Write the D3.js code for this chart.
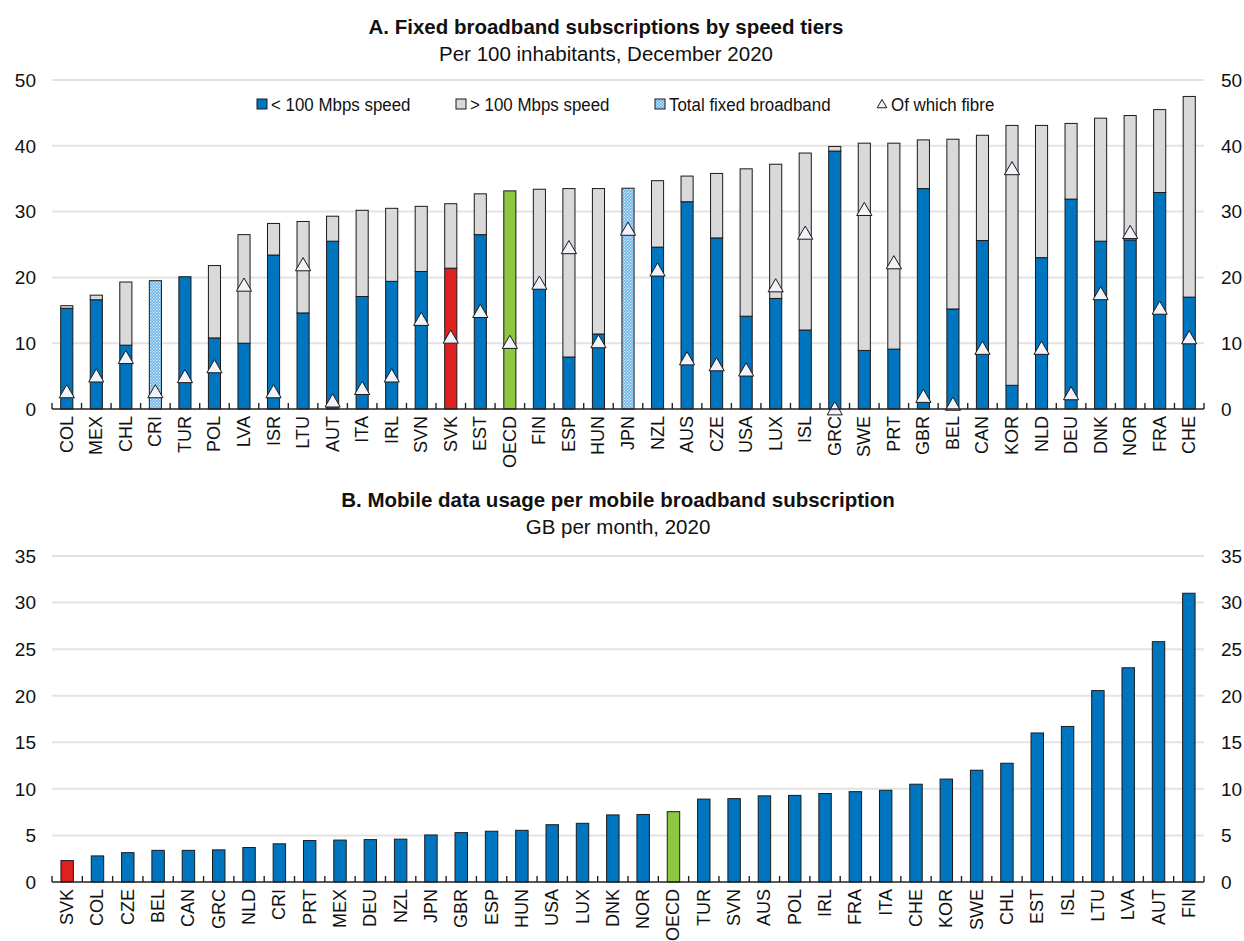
<!DOCTYPE html>
<html>
<head>
<meta charset="utf-8">
<script src="https://cdn.jsdelivr.net/npm/d3@7"></script>
<style>
  html, body { margin: 0; padding: 0; background: #fff; }
  svg { display: block; }
  .narrow { font-family: "Liberation Sans Narrow", "Arial Narrow", "Liberation Sans", Arial, sans-serif; }
  .cat { font-family: "Liberation Sans", Arial, sans-serif; }
</style>
</head>
<body>
<svg id="chart" width="1244" height="941"></svg>
<script>
// Panel A: fixed broadband subscriptions per 100 inhabitants, Dec 2020
const fixedCountries = ["COL","MEX","CHL","CRI","TUR","POL","LVA","ISR","LTU","AUT","ITA","IRL","SVN","SVK","EST","OECD","FIN","ESP","HUN","JPN","NZL","AUS","CZE","USA","LUX","ISL","GRC","SWE","PRT","GBR","BEL","CAN","KOR","NLD","DEU","DNK","NOR","FRA","CHE"];
// < 100 Mbps (null where only the total is available)
const below100 = [15.3,16.6,9.7,null,20.1,10.8,10.0,23.4,14.6,25.5,17.1,19.4,20.9,21.4,26.5,null,18.3,7.9,11.4,null,24.6,31.5,26.0,14.1,16.8,12.0,39.2,8.9,9.1,33.5,15.2,25.6,3.6,23.0,31.9,25.5,25.7,32.9,17.0];
// > 100 Mbps
const above100 = [0.4,0.7,9.6,null,0.0,11.0,16.5,4.8,13.9,3.8,13.1,11.1,9.9,9.8,6.2,null,15.1,25.6,22.1,null,10.1,3.9,9.8,22.4,20.4,26.9,0.7,31.5,31.3,7.4,25.8,16.0,39.5,20.1,11.5,18.7,18.9,12.6,30.5];
// Total fixed broadband, where no speed split is shown
const totalOnly = [null,null,null,19.5,null,null,null,null,null,null,null,null,null,null,null,33.15,null,null,null,33.55,null,null,null,null,null,null,null,null,null,null,null,null,null,null,null,null,null,null,null];
// Of which fibre
const fibre = [2.6,5.0,7.8,2.6,4.9,6.4,18.8,2.6,21.9,1.2,3.1,5.0,13.6,10.9,14.8,10.1,19.1,24.5,10.2,27.3,21.1,7.6,6.7,5.9,18.7,26.7,0.0,30.3,22.2,1.9,0.7,9.2,36.5,9.2,2.3,17.5,26.8,15.3,10.8];
const fixedTicks = [0,10,20,30,40,50];

// Panel B: mobile data usage per mobile broadband subscription, GB per month, 2020
const mobileCountries = ["SVK","COL","CZE","BEL","CAN","GRC","NLD","CRI","PRT","MEX","DEU","NZL","JPN","GBR","ESP","HUN","USA","LUX","DNK","NOR","OECD","TUR","SVN","AUS","POL","IRL","FRA","ITA","CHE","KOR","SWE","CHL","EST","ISL","LTU","LVA","AUT","FIN"];
const mobileUsage = [2.3,2.8,3.15,3.4,3.4,3.45,3.7,4.1,4.45,4.5,4.55,4.6,5.05,5.3,5.45,5.55,6.15,6.3,7.2,7.25,7.55,8.9,8.95,9.25,9.3,9.5,9.7,9.85,10.5,11.05,12.0,12.75,16.0,16.7,20.55,23.0,25.8,31.0];
const mobileTicks = [0,5,10,15,20,25,30,35];

const legendItems = ["< 100 Mbps speed", "> 100 Mbps speed", "Total fixed broadband", "Of which fibre"];

const COL_BLUE = "#0075bf";
const COL_GREY = "#d9d9d9";
const COL_RED = "#e0201f";
const COL_GREEN = "#8dc63f";
const GRID = "#e3e3e3";

const svg = d3.select("#chart");

// dotted light-blue fill for the total-only bars
const defs = svg.append("defs");
const pat = defs.append("pattern").attr("id", "dots").attr("patternUnits", "userSpaceOnUse")
  .attr("width", 3).attr("height", 3);
pat.append("rect").attr("width", 3).attr("height", 3).attr("fill", "#6cb4e6");
pat.append("rect").attr("x", 0).attr("y", 0).attr("width", 1.2).attr("height", 1.2).attr("fill", "#e8f4fc");
pat.append("rect").attr("x", 1.5).attr("y", 1.5).attr("width", 1.2).attr("height", 1.2).attr("fill", "#e8f4fc");

const X0 = 52, X1 = 1204;

function panelFrame(g, y, ticks) {
  // horizontal gridlines
  g.append("g").selectAll("line").data(ticks.filter(t => t !== 0)).join("line")
    .attr("x1", X0).attr("x2", X1)
    .attr("y1", d => y(d)).attr("y2", d => y(d))
    .attr("stroke", GRID).attr("stroke-width", 2);
  // tick labels on both sides
  g.append("g").selectAll("text").data(ticks).join("text")
    .attr("class", "narrow").attr("x", 36).attr("y", d => y(d)).attr("dy", "0.36em")
    .attr("text-anchor", "end").attr("font-size", 19).attr("fill", "#111").text(d => d);
  g.append("g").selectAll("text").data(ticks).join("text")
    .attr("class", "narrow").attr("x", 1221).attr("y", d => y(d)).attr("dy", "0.36em")
    .attr("text-anchor", "start").attr("font-size", 19).attr("fill", "#111").text(d => d);
}

function panelAxis(g, y, cats, xScale) {
  const y0 = y(0);
  g.append("line").attr("x1", X0).attr("x2", X1).attr("y1", y0).attr("y2", y0)
    .attr("stroke", "#222").attr("stroke-width", 1.6);
  // tick marks at band boundaries, pointing up
  const gap = (xScale.step() - xScale.bandwidth()) / 2;
  const bounds = cats.map(c => xScale(c) - gap);
  bounds.push(X1);
  g.append("g").selectAll("line").data(bounds).join("line")
    .attr("x1", d => d).attr("x2", d => d).attr("y1", y0).attr("y2", y0 - 6)
    .attr("stroke", "#222").attr("stroke-width", 1.4);
  // category labels, rotated
  g.append("g").selectAll("text").data(cats).join("text")
    .attr("class", "cat")
    .attr("transform", d => `translate(${xScale(d) + xScale.bandwidth() / 2 + 6},${y0 + 7}) rotate(-90)`)
    .attr("text-anchor", "end").attr("font-size", 18).attr("fill", "#111").text(d => d);
}

function titles(cx, y1, t1, t2) {
  svg.append("text").attr("class", "narrow").attr("x", cx).attr("y", y1)
    .attr("text-anchor", "middle").attr("font-size", 20.5).attr("font-weight", "bold").attr("fill", "#111").text(t1);
  svg.append("text").attr("class", "narrow").attr("x", cx).attr("y", y1 + 27)
    .attr("text-anchor", "middle").attr("font-size", 20.5).attr("fill", "#111").text(t2);
}

// ---------- Panel A ----------
titles(606, 34, "A. Fixed broadband subscriptions by speed tiers", "Per 100 inhabitants, December 2020");
const gA = svg.append("g");
const xA = d3.scaleBand().domain(fixedCountries).range([X0, X1]).paddingInner(0.59).paddingOuter(0.295);
const yA = d3.scaleLinear().domain([0, 50]).range([409, 80]);
panelFrame(gA, yA, fixedTicks);

const rowsA = fixedCountries.map((c, i) => ({ c, slow: below100[i], fast: above100[i], tot: totalOnly[i], fib: fibre[i] }));

const barsA = gA.append("g");
rowsA.forEach(d => {
  const x = xA(d.c), w = xA.bandwidth();
  if (d.tot !== null) {
    barsA.append("rect").attr("x", x).attr("width", w)
      .attr("y", yA(d.tot)).attr("height", yA(0) - yA(d.tot))
      .attr("fill", d.c === "OECD" ? COL_GREEN : "url(#dots)")
      .attr("stroke", "#1a1a1a").attr("stroke-width", 1);
  } else {
    barsA.append("rect").attr("x", x).attr("width", w)
      .attr("y", yA(d.slow)).attr("height", yA(0) - yA(d.slow))
      .attr("fill", d.c === "SVK" ? COL_RED : COL_BLUE)
      .attr("stroke", "#1a1a1a").attr("stroke-width", 1);
    if (d.fast > 0) {
      barsA.append("rect").attr("x", x).attr("width", w)
        .attr("y", yA(d.slow + d.fast)).attr("height", yA(d.slow) - yA(d.slow + d.fast))
        .attr("fill", COL_GREY).attr("stroke", "#1a1a1a").attr("stroke-width", 1);
    }
  }
});

// fibre markers
const tri = d3.symbol().type(d3.symbolTriangle).size(100);
gA.append("g").selectAll("path").data(rowsA).join("path")
  .attr("d", tri)
  .attr("transform", d => `translate(${xA(d.c) + xA.bandwidth() / 2},${yA(d.fib) + 1.5})`)
  .attr("fill", "#f2f2fa").attr("stroke", "#1a1a1a").attr("stroke-width", 1);

panelAxis(gA, yA, fixedCountries, xA);

// legend
const lg = svg.append("g");
const legX = [262, 461, 660, 882];
const legY = 104;
legendItems.forEach((t, i) => {
  const x = legX[i];
  if (i < 3) {
    lg.append("rect").attr("x", x - 5).attr("y", legY - 5).attr("width", 10).attr("height", 10)
      .attr("fill", i === 0 ? COL_BLUE : i === 1 ? COL_GREY : "url(#dots)")
      .attr("stroke", "#1a1a1a").attr("stroke-width", 1);
  } else {
    lg.append("path").attr("d", d3.symbol().type(d3.symbolTriangle).size(40))
      .attr("transform", `translate(${x},${legY + 1})`)
      .attr("fill", "#f2f2fa").attr("stroke", "#1a1a1a").attr("stroke-width", 1);
  }
  lg.append("text").attr("class", "narrow")
    .attr("transform", `translate(${x + 9},${legY}) scale(0.89,1)`)
    .attr("dy", "0.36em")
    .attr("font-size", 19).attr("fill", "#111").text(t);
});

// ---------- Panel B ----------
titles(618, 507, "B. Mobile data usage per mobile broadband subscription", "GB per month, 2020");
const gB = svg.append("g");
const xB = d3.scaleBand().domain(mobileCountries).range([X0, X1]).paddingInner(0.59).paddingOuter(0.295);
const yB = d3.scaleLinear().domain([0, 35]).range([882, 556]);
panelFrame(gB, yB, mobileTicks);

gB.append("g").selectAll("rect").data(mobileCountries.map((c, i) => ({ c, v: mobileUsage[i] }))).join("rect")
  .attr("x", d => xB(d.c)).attr("width", xB.bandwidth())
  .attr("y", d => yB(d.v)).attr("height", d => yB(0) - yB(d.v))
  .attr("fill", d => d.c === "SVK" ? COL_RED : d.c === "OECD" ? COL_GREEN : COL_BLUE)
  .attr("stroke", "#1a1a1a").attr("stroke-width", 1);

panelAxis(gB, yB, mobileCountries, xB);
</script>
</body>
</html>
